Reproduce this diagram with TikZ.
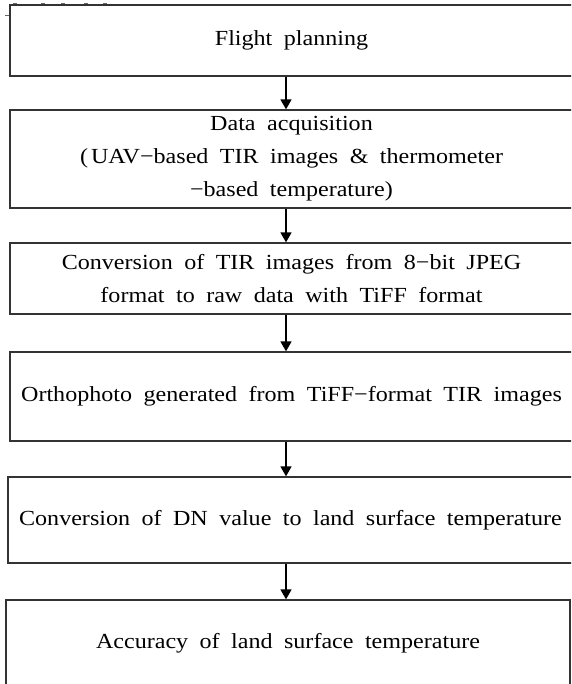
\documentclass[tikz,border=0pt]{standalone}
\usepackage{fontspec}
\setmainfont{Liberation Serif}[FakeStretch=1.12, WordSpace=1.9]
\usetikzlibrary{arrows.meta}
\tikzset{
  box/.style={draw=black!80, line width=1.3pt, rectangle, inner sep=0pt, align=center,
    font=\fontsize{21.5}{33}\selectfont},
  arr/.style={line width=1.6pt, -{Triangle[length=10pt,width=11pt]}},
  speck/.style={draw=black!60, line width=0.8pt}
}
\begin{document}
\begin{tikzpicture}[x=1pt,y=-1pt]
\useasboundingbox (0,0) rectangle (571,684);
\clip (0,0) rectangle (571,684);
\fill[white] (0,0) rectangle (571,684);
\node[box, minimum width=563pt, minimum height=71pt] (b1) at (291.5,40.5) {Flight planning};
\node[box, minimum width=563pt, minimum height=98pt] (b2) at (291.5,159) {Data acquisition\\(\hspace{3pt}UAV−based TIR images \& thermometer\\−based temperature)\hspace{4pt}};
\node[box, minimum width=563pt, minimum height=71pt] (b3) at (291.5,278.5) {Conversion of TIR images from 8−bit JPEG\\format to raw data with TiFF format};
\node[box, minimum width=563pt, minimum height=89pt] (b4) at (291.5,396.5) {Orthophoto generated from TiFF−format TIR images};
\node[box, minimum width=565pt, minimum height=86pt] (b5) at (290.5,520) {Conversion of DN value to land surface temperature};
\node[box, minimum width=564pt, minimum height=86pt] (b6) at (288,643) {Accuracy of land surface temperature};
\coordinate (ax) at (286,0);
\draw[arr] (b1.south -| ax) -- (b2.north -| ax);
\draw[arr] (b2.south -| ax) -- (b3.north -| ax);
\draw[arr] (b3.south -| ax) -- (b4.north -| ax);
\draw[arr] (b4.south -| ax) -- (b5.north -| ax);
\draw[arr] (b5.south -| ax) -- (b6.north -| ax);
\foreach \sx in {13,41,61,84,103} \draw[speck] (\sx,3.5) -- (\sx+4,3.5);
\draw[speck] (5,15) -- (9,15);
\end{tikzpicture}
\end{document}
